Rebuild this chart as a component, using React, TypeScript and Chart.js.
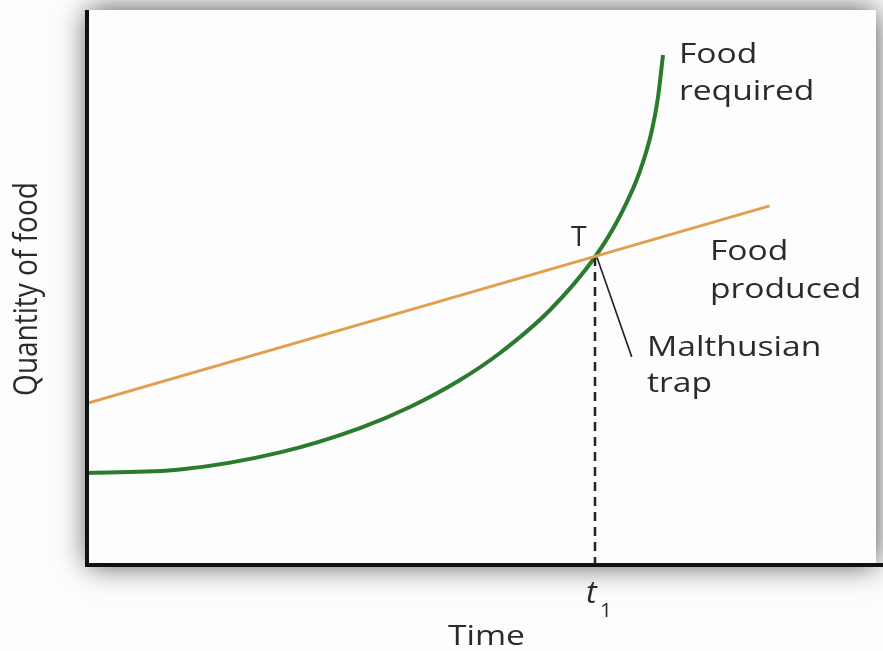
import React, { useEffect, useRef } from "react";
import { Chart, registerables } from "chart.js";

Chart.register(...registerables);

// Time axis runs 0..100, quantity axis 0..100 (arbitrary units)
const producedX = [0, 86.5];
const producedY = [29.2, 64.7];

const requiredX = [0, 11.68, 24.37, 34.52, 40.86, 47.21, 52.28, 58.63, 64.34, 67.51, 70.05, 71.57, 72.34, 72.97];
const requiredY = [16.58, 17.2, 20.3, 24.68, 28.47, 33.33, 38.2, 45.95, 55.5, 62.88, 70.99, 78.38, 84.32, 91.89];

const trapX = [64.34, 64.34];
const trapY = [55.5, 0];

const leaderX = [64.6, 69.0];
const leaderY = [55.4, 37.5];

const toPts = (xs: number[], ys: number[]) => xs.map((x, i) => ({ x, y: ys[i] }));

const TEXT_COLOR = "#2b2b2b";
const STRETCH = 1.2;

function stretchedText(ctx: CanvasRenderingContext2D, text: string, x: number, y: number, font: string, sx = STRETCH) {
  ctx.save();
  ctx.font = font;
  ctx.fillStyle = TEXT_COLOR;
  ctx.textAlign = "left";
  ctx.textBaseline = "alphabetic";
  ctx.translate(x, y);
  ctx.scale(sx, 1);
  ctx.fillText(text, 0, 0);
  ctx.restore();
}

const framePlugin = {
  id: "frame",
  beforeDraw(chart: any) {
    const { ctx, chartArea } = chart;
    const { left, top, right, bottom } = chartArea;
    ctx.save();
    ctx.fillStyle = "#fdfdfd";
    ctx.fillRect(0, 0, chart.width, chart.height);
    ctx.shadowColor = "rgba(0,0,0,0.7)";
    ctx.shadowBlur = 28;
    ctx.fillStyle = "#fdfdfd";
    ctx.fillRect(left, top, right - left, bottom - top);
    ctx.restore();
  },
  afterDraw(chart: any) {
    const { ctx, chartArea } = chart;
    const { left, top, right, bottom } = chartArea;
    ctx.save();
    ctx.strokeStyle = "#111";
    ctx.lineWidth = 4;
    ctx.beginPath();
    ctx.moveTo(left - 1, top);
    ctx.lineTo(left - 1, bottom);
    ctx.lineTo(right + 7, bottom);
    ctx.stroke();
    ctx.restore();

    const f = "28px 'Open Sans'";
    stretchedText(ctx, "Food", 679, 63, f);
    stretchedText(ctx, "required", 679, 100, f);
    stretchedText(ctx, "Food", 710, 260, f);
    stretchedText(ctx, "produced", 710, 298, f);
    stretchedText(ctx, "Malthusian", 647, 356, f);
    stretchedText(ctx, "trap", 647, 392, f);
    stretchedText(ctx, "T", 571, 246, "27px 'Open Sans'", 1.05);
    stretchedText(ctx, "t", 586, 603, "italic 31px 'Open Sans'", 1.05);
    stretchedText(ctx, "1", 600, 617, "20px 'Open Sans'", 1.05);
    stretchedText(ctx, "Time", 448, 645, f);

    ctx.save();
    ctx.font = f;
    ctx.fillStyle = TEXT_COLOR;
    ctx.textAlign = "center";
    ctx.textBaseline = "alphabetic";
    ctx.translate(37, 289);
    ctx.rotate(-Math.PI / 2);
    ctx.scale(1, STRETCH);
    ctx.fillText("Quantity of food", 0, 0);
    ctx.restore();
  },
};

export default function App() {
  const ref = useRef<HTMLCanvasElement | null>(null);
  useEffect(() => {
    if (!ref.current) return;
    const chart = new Chart(ref.current, {
      type: "line",
      data: {
        datasets: [
          {
            label: "Food produced",
            data: toPts(producedX, producedY),
            borderColor: "#E2A04E",
            borderWidth: 3,
            pointRadius: 0,
            fill: false,
          },
          {
            label: "t1",
            data: toPts(trapX, trapY),
            borderColor: "#222",
            borderWidth: 2.5,
            borderDash: [9, 6],
            pointRadius: 0,
            fill: false,
          },
          {
            label: "Malthusian trap",
            data: toPts(leaderX, leaderY),
            borderColor: "#222",
            borderWidth: 1.6,
            pointRadius: 0,
            fill: false,
          },
          {
            label: "Food required",
            data: toPts(requiredX, requiredY),
            borderColor: "#2C7A2E",
            borderWidth: 4,
            pointRadius: 0,
            cubicInterpolationMode: "monotone",
            fill: false,
          },
        ],
      },
      options: {
        responsive: false,
        animation: false,
        layout: { padding: { left: 88, right: 7, top: 10, bottom: 86 } },
        plugins: { legend: { display: false }, tooltip: { enabled: false } },
        scales: {
          x: { type: "linear", min: 0, max: 100, display: false },
          y: { type: "linear", min: 0, max: 100, display: false },
        },
      },
      plugins: [framePlugin],
    } as any);
    return () => chart.destroy();
  }, []);
  return (
    <div style={{ position: "fixed", left: 0, top: 0, width: 883, height: 651 }}>
      <canvas ref={ref} width={883} height={651} style={{ width: 883, height: 651, display: "block" }} />
    </div>
  );
}
